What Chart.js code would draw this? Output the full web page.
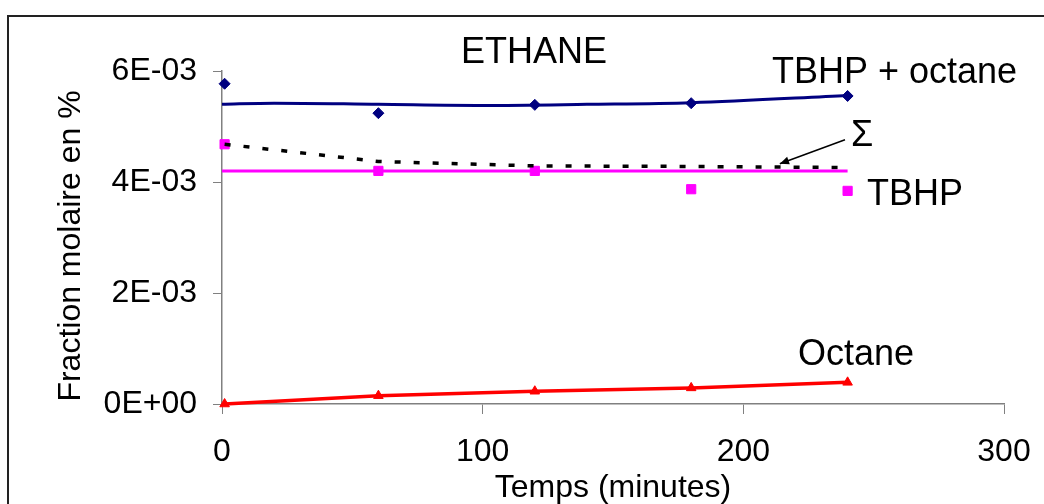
<!DOCTYPE html>
<html>
<head>
<meta charset="utf-8">
<script src="https://cdn.jsdelivr.net/npm/chart.js@4/dist/chart.umd.min.js"></script>
<style>
  html, body { margin: 0; padding: 0; background: #fff; }
  #wrap { width: 1044px; height: 504px; }
</style>
</head>
<body>
<div id="wrap"><canvas id="ethaneChart" width="1044" height="504"></canvas></div>
<script>
// valeurs mesurees (temps en minutes)
const tempsMesure = [1, 60, 120, 180, 240];
const totalMesure = [5.77e-3, 5.24e-3, 5.39e-3, 5.42e-3, 5.55e-3];
const tbhpMesure = [4.68e-3, 4.2e-3, 4.2e-3, 3.87e-3, 3.84e-3];
const octaneMesure = [0, 0.15e-3, 0.23e-3, 0.29e-3, 0.39e-3];

// courbes lissees
const tempsCourbe = [0, 20, 60, 100, 140, 180, 240];
const totalCourbe = [5.40e-3, 5.42e-3, 5.40e-3, 5.38e-3, 5.40e-3, 5.43e-3, 5.56e-3];
const tempsTbhp = [0, 240];
const tbhpCourbe = [4.2e-3, 4.2e-3];
const tempsSomme = [1, 60, 120, 180, 240];
const sommeCourbe = [4.68e-3, 4.37e-3, 4.29e-3, 4.28e-3, 4.26e-3];

const ticksX = [0, 100, 200, 300];
const ticksY = [0, 2e-3, 4e-3, 6e-3];

function pts(xs, ys) {
    return xs.map((x, i) => ({ x: x, y: ys[i] }));
}

function sci(v) {
    if (Math.abs(v) < 1e-12) return '0E+00';
    const e = Math.floor(Math.log10(Math.abs(v)) + 1e-9);
    const m = Math.round(v / Math.pow(10, e));
    return m + 'E' + (e < 0 ? '-' : '+') + String(Math.abs(e)).padStart(2, '0');
}

const FONT = "'Liberation Sans', Arial, sans-serif";

// cadre + textes + fleche
const decor = {
    id: 'decor',
    beforeDraw(chart) {
        const ctx = chart.ctx;
        ctx.save();
        ctx.fillStyle = '#fff';
        ctx.fillRect(0, 0, chart.width, chart.height);
        ctx.strokeStyle = '#222';
        ctx.lineWidth = 2;
        ctx.strokeRect(8, 16, 1200, 700);
        ctx.restore();
    },
    afterDraw(chart) {
        const ctx = chart.ctx;
        const xs = chart.scales.x, ys = chart.scales.y;
        ctx.save();
        ctx.fillStyle = '#000';

        // titre de l'axe y (un peu plus bas que le centre du graphe)
        ctx.save();
        ctx.font = '32px ' + FONT;
        ctx.translate(71, 246);
        ctx.rotate(-Math.PI / 2);
        ctx.textAlign = 'center';
        ctx.textBaseline = 'middle';
        ctx.fillText('Fraction molaire en %', 0, 0);
        ctx.restore();

        ctx.font = '36px ' + FONT;
        ctx.textBaseline = 'alphabetic';
        ctx.textAlign = 'center';
        ctx.fillText('ETHANE', 534, 63);
        ctx.textAlign = 'left';
        ctx.fillText('TBHP + octane', 772, 83);
        ctx.fillText('TBHP', 867, 205);
        ctx.fillText('Octane', 798, 365);
        ctx.fillText('\u03A3', 851, 146);

        // fleche vers la somme
        const x0 = xs.getPixelForValue(239), y0 = ys.getPixelForValue(4.76e-3);
        const x1 = xs.getPixelForValue(214), y1 = ys.getPixelForValue(4.33e-3);
        ctx.strokeStyle = '#000';
        ctx.lineWidth = 1.5;
        ctx.beginPath();
        ctx.moveTo(x0, y0);
        ctx.lineTo(x1, y1);
        ctx.stroke();
        const a = Math.atan2(y1 - y0, x1 - x0);
        ctx.beginPath();
        ctx.moveTo(x1, y1);
        ctx.lineTo(x1 - 10 * Math.cos(a - 0.4), y1 - 10 * Math.sin(a - 0.4));
        ctx.lineTo(x1 - 10 * Math.cos(a + 0.4), y1 - 10 * Math.sin(a + 0.4));
        ctx.closePath();
        ctx.fill();
        ctx.restore();
    }
};

const ctx = document.getElementById('ethaneChart').getContext('2d');
new Chart(ctx, {
    type: 'scatter',
    data: {
        datasets: [
            {
                label: 'TBHP + octane courbe',
                data: pts(tempsCourbe, totalCourbe),
                showLine: true,
                borderColor: '#000080',
                borderWidth: 3,
                pointRadius: 0,
                cubicInterpolationMode: 'monotone',
            },
            {
                label: 'TBHP courbe',
                data: pts(tempsTbhp, tbhpCourbe),
                showLine: true,
                borderColor: '#FF00FF',
                borderWidth: 3,
                pointRadius: 0,
            },
            {
                label: 'Somme',
                data: pts(tempsSomme, sommeCourbe),
                showLine: true,
                borderColor: '#000',
                borderWidth: 3.5,
                borderDash: [6, 13],
                pointRadius: 0,
            },
            {
                label: 'Octane',
                data: pts(tempsMesure, octaneMesure),
                showLine: true,
                borderColor: '#FF0000',
                backgroundColor: '#FF0000',
                borderWidth: 3.5,
                pointStyle: 'triangle',
                pointRadius: 5.5,
                pointBorderWidth: 1,
            },
            {
                label: 'TBHP + octane',
                data: pts(tempsMesure, totalMesure),
                showLine: false,
                borderColor: '#000080',
                backgroundColor: '#000080',
                pointStyle: 'rectRot',
                pointRadius: 5.5,
                pointBorderWidth: 1,
            },
            {
                label: 'TBHP',
                data: pts(tempsMesure, tbhpMesure),
                showLine: false,
                borderColor: '#FF00FF',
                backgroundColor: '#FF00FF',
                pointStyle: 'rect',
                pointRadius: 6.5,
                pointBorderWidth: 1,
            },
        ],
    },
    options: {
        responsive: false,
        animation: false,
        events: [],
        clip: false,
        layout: { padding: { top: 71, right: 40, left: 0, bottom: 0 } },
        plugins: {
            legend: { display: false },
            tooltip: { enabled: false },
        },
        scales: {
            x: {
                type: 'linear',
                min: 0,
                max: 300,
                afterBuildTicks: (s) => { s.ticks = ticksX.map(v => ({ value: v })); },
                afterFit: (s) => { s.height = 100; s.paddingLeft = 0; s.paddingRight = 0; },
                ticks: {
                    color: '#000',
                    font: { family: FONT, size: 32 },
                    padding: 19,
                    maxRotation: 0,
                },
                grid: { drawOnChartArea: false, color: '#808080', tickLength: 10 },
                border: { color: '#808080', width: 1.5 },
                title: {
                    display: true,
                    text: 'Temps (minutes)',
                    color: '#000',
                    font: { family: FONT, size: 32 },
                    padding: { top: 0, bottom: -3 },
                },
            },
            y: {
                type: 'linear',
                min: 0,
                max: 6e-3,
                afterBuildTicks: (s) => { s.ticks = ticksY.map(v => ({ value: v })); },
                afterFit: (s) => { s.width = 222; s.paddingTop = 0; s.paddingBottom = 0; },
                ticks: {
                    color: '#000',
                    font: { family: FONT, size: 32 },
                    padding: 16,
                    callback: (v) => sci(v),
                },
                grid: { drawOnChartArea: false, color: '#808080', tickLength: 9 },
                border: { color: '#808080', width: 1.5 },
            },
        },
    },
    plugins: [decor],
});
</script>
</body>
</html>
